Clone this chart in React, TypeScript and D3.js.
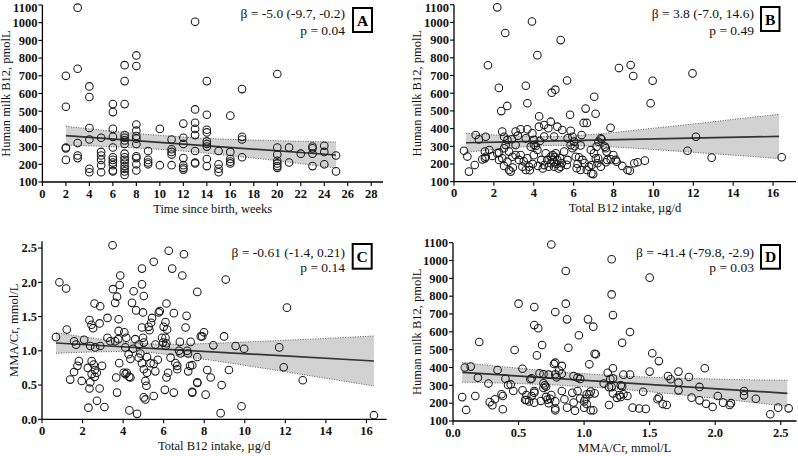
import React from 'react';
import * as d3 from 'd3';

// ---------- Panel A: Time since birth (weeks) vs Human milk B12 ----------
const pointsA: [number, number][] = [
  [2,700],[2,525],[2,295],[2,290],[2,225],
  [3,1085],[3,740],[3,320],[3,250],[3,235],
  [4,640],[4,580],[4,405],[4,340],[4,175],[4,155],
  [5,350],[5,270],[5,250],[5,225],[5,195],[5,155],
  [6,540],[6,495],[6,400],[6,355],[6,295],[6,240],[6,225],[6,210],[6,195],[6,165],[6,160],
  [7,760],[7,670],[7,540],[7,365],[7,350],[7,335],[7,315],[7,260],[7,240],[7,225],[7,210],[7,190],[7,175],[7,160],[7,140],
  [8,815],[8,755],[8,425],[8,390],[8,360],[8,345],[8,315],[8,245],[8,235],[8,200],[8,165],
  [9,275],[9,225],[9,210],[9,200],
  [10,400],[10,195],
  [11,340],[11,285],[11,270],[11,255],[11,195],
  [12,430],[12,350],[12,315],[12,235],[12,195],[12,180],[12,170],
  [13,1005],[13,510],[13,435],[13,400],[13,365],[13,275],[13,210],[13,205],
  [14,670],[14,480],[14,395],[14,380],[14,330],[14,315],[14,300],[14,230],[14,190],
  [15,275],[15,200],[15,175],[15,155],
  [16,475],[16,270],[16,230],[16,215],[16,205],
  [17,625],[17,355],[17,340],[17,240],
  [20,710],[20,295],[20,255],[20,220],[20,205],[20,190],[20,180],
  [21,295],[21,210],
  [22,260],
  [23,300],[23,290],[23,260],[23,190],
  [24,305],[24,270],[24,200],
  [25,250],[25,160],
];
const fitXA = [2, 25];
const fitYA = [361.6, 252.6];
const bandXA = [2, 5, 8, 10.5, 13, 16, 19, 22, 25];
const bandHiA = [415, 393, 374, 361, 350, 341, 335, 330, 326];
const bandLoA = [308, 302, 292, 282, 269, 249, 228, 204, 179];
const ticksXA = [0, 2, 4, 6, 8, 10, 12, 14, 16, 18, 20, 22, 24, 26, 28];
const ticksB12 = [100, 200, 300, 400, 500, 600, 700, 800, 900, 1000, 1100];

// ---------- Panel B: Total B12 intake vs Human milk B12 ----------
const pointsB: [number, number][] = [
  [2.17,1085],[2.57,940],[3.91,1005],[5.35,900],[4.18,815],[1.7,758],[2.25,630],[3.6,642],
  [2.37,499],[2.67,528],[3.68,543],[4.9,603],[5.08,620],[5.67,672],[7.03,580],[8.27,742],
  [8.86,759],[8.99,697],[9.96,670],[9.86,543],[11.96,712],[4.27,469],[5.82,478],[6.6,513],
  [7.1,484],[6.5,432],[6.66,432],[7.85,405],[4.85,439],[12.13,354],[11.71,275],[12.92,236],[16.43,238],
  [1.09,364],[1.25,339],[1.59,354],[2.42,383],[2.51,354],[3.09,383],[3.34,396],[3.68,396],
  [3.93,373],[3.6,345],[4.01,336],[4.26,411],[4.52,420],[4.73,402],[5.18,411],[5.43,392],
  [5.85,388],[5.94,354],[6.4,364],[5.02,355],[4.52,355],[2.68,336],[7.36,345],[7.24,326],[6.02,326],
  [0.5,275],[0.67,242],[1.04,194],[0.75,157],[1.42,226],[1.59,241],[1.92,245],[2.26,264],
  [2.51,289],[2.59,307],[2.76,270],[2.42,232],[2.51,189],[2.76,166],[2.84,157],[2.68,213],
  [2.93,241],[3.09,251],[3.26,223],[3.43,185],[3.6,166],[3.76,185],[3.68,232],[3.34,251],
  [3.85,298],[4.1,302],[4.18,279],[4.21,189],[4.38,223],[4.52,194],[4.68,223],[4.85,241],
  [4.93,223],[4.85,204],[5.02,185],[5.18,223],[5.1,260],[5.35,185],[5.32,232],[5.52,270],
  [5.69,223],[5.94,289],[5.85,307],[6.1,241],[6.15,176],[6.27,238],[6.44,223],[6.35,166],
  [6.66,166],[6.89,147],[6.77,185],[7.11,232],[7.19,204],[7.36,185],[7.61,289],[7.69,223],
  [7.86,226],[7.99,251],[8.11,223],[8.44,189],[8.7,166],[6.86,279],[7.02,260],[4.01,307],
  [3.09,307],[2.26,223],
  [7.4,340],[9.57,219],[9.21,210],[9.04,204],[8.82,162],[8.16,213],[7.62,210],[7.65,270],
  [7.57,298],[7.23,232],[7.15,298],[6.98,143],[6.9,194],
  [1.55,270],[1.55,232],[1.77,279],[2.17,260],
  [4.95,250],[5.05,240],[5.0,210],[5.15,200],[4.75,185],[5.25,175],[4.6,260],[5.4,205],
  [3.95,200],[3.8,165],[4.45,175],[5.65,195],[6.2,200],[6.55,205],[2.95,180],[3.5,215],
  [4.0,250],[4.3,330],[6.05,300],[6.35,305],[2.9,340],[3.2,360],[5.7,345],
];
const fitXB = [0.6, 16.3];
const fitYB = [320, 356];
const bandXB = [0.6, 2, 3.5, 5, 6.5, 8, 10, 12, 14, 16.3];
const bandHiB = [374, 364, 357, 355, 363, 378, 402, 426, 452, 481];
const bandLoB = [266, 282, 297, 305, 303, 296, 282, 266, 250, 231];
const ticksIntake = [0, 2, 4, 6, 8, 10, 12, 14, 16];

// ---------- Panel C: Total B12 intake vs MMA/Cr ----------
const pointsC: [number, number][] = [
  [3.48,2.54],[0.86,2.0],[1.19,1.91],[0.69,1.2],[1.22,1.31],[1.58,1.14],[1.68,1.09],[1.82,0.85],
  [1.75,0.78],[1.58,0.69],[1.39,0.58],[1.96,0.56],[2.08,1.16],[2.34,1.45],[2.59,1.69],[2.87,1.65],
  [2.44,1.38],[2.52,1.33],[2.84,1.40],[2.38,1.07],[2.62,1.05],[2.26,0.75],[2.45,0.85],[2.55,0.80],
  [2.6,0.72],[2.7,0.68],[2.45,0.66],[2.6,0.62],[2.38,0.54],[2.34,0.45],[2.84,0.45],[2.71,0.27],
  [2.29,0.17],[3.08,0.18],[2.96,0.78],[2.87,1.07],[3.23,1.19],[3.23,1.48],[3.5,1.90],[3.61,1.70],
  [3.7,1.79],[3.83,1.96],[3.86,2.10],[3.78,1.46],[3.78,1.29],[3.76,1.17],[3.61,1.14],[3.37,1.14],
  [3.66,0.61],[3.7,0.39],[3.81,0.82],[4.03,0.68],[4.12,0.66],[4.18,0.68],[4.3,0.62],[4.36,0.61],
  [4.31,0.13],[4.69,0.08],[4.06,1.27],[4.16,1.19],[4.11,1.05],[4.27,0.95],[4.36,0.88],[4.49,1.03],
  [4.44,1.70],[4.52,1.87],[4.64,1.59],[4.6,1.17],[4.77,1.09],[4.93,2.20],[4.93,1.97],[5.02,1.80],
  [4.98,1.56],[4.93,1.34],[4.98,1.19],[5.02,1.12],[4.85,0.96],[4.77,0.90],[4.93,0.82],[5.02,0.73],
  [5.18,0.68],[5.1,0.56],[5.15,0.49],[5.02,0.32],[5.1,0.29],[5.18,0.91],[5.26,1.35],[5.3,1.30],
  [5.35,0.82],[5.38,1.41],[5.43,1.48],[5.51,2.30],[5.51,0.81],[5.51,0.34],[5.59,0.70],[5.59,1.09],
  [5.71,0.87],[5.81,1.58],[5.76,1.56],[5.97,1.12],[5.92,1.19],[6.0,1.35],[6.14,1.69],[6.09,1.42],
  [6.25,2.46],[6.17,1.31],[6.09,1.19],[6.1,1.07],[6.13,1.11],[6.22,0.68],[6.14,0.61],[6.06,0.43],
  [6.34,0.90],[6.42,2.20],[6.5,1.55],[6.5,0.39],[6.58,0.82],[6.67,0.78],[6.67,0.73],[6.76,1.00],
  [6.83,0.96],[6.8,1.13],[6.92,2.10],[7.0,2.41],[7.08,1.34],[7.13,1.51],[7.16,1.0],[7.2,0.96],
  [7.21,0.70],[7.3,0.78],[7.41,0.39],[7.66,1.86],[7.66,0.54],[7.83,1.21],
  [9.06,2.04],[12.08,1.63],[7.99,1.27],[7.9,1.21],[8.98,1.21],[8.45,1.08],[9.55,1.07],[9.97,1.03],
  [11.7,1.05],[7.66,0.91],[7.41,0.79],[8.15,0.72],[9.22,0.72],[8.32,0.61],[7.66,0.53],[8.86,0.50],
  [11.92,0.76],[12.86,0.57],[7.41,0.40],[8.07,0.36],[9.84,0.19],[8.81,0.09],[16.37,0.06],[7.33,1.13],
];
const fitXC = [0.69, 16.37];
const fitYC = [1.114, 0.851];
const bandXC = [0.69, 2, 3.5, 5, 6.5, 8, 10, 12, 14, 16.37];
const bandHiC = [1.264, 1.206, 1.146, 1.105, 1.095, 1.105, 1.128, 1.154, 1.181, 1.216];
const bandLoC = [0.964, 0.978, 0.988, 0.979, 0.937, 0.877, 0.788, 0.694, 0.599, 0.486];
const ticksMMA = [0, 0.5, 1.0, 1.5, 2.0, 2.5];

// ---------- Panel D: MMA/Cr vs Human milk B12 ----------
const pointsD: [number, number][] = [
  [0.75,1090],[0.86,941],[0.5,758],[0.86,758],[0.62,739],[0.78,711],[0.87,670],[1.03,670],
  [0.62,638],[0.65,620],[1.07,629],[0.96,581],[0.2,543],[0.68,526],[0.88,511],[0.47,498],
  [0.64,468],[1.08,477],[1.04,418],[0.09,400],[0.135,405],[0.78,427],[0.77,420],[0.83,409],
  [0.34,386],[0.53,393],[0.19,343],[0.4,337],[0.59,334],[0.69,362],[0.73,360],[0.81,383],
  [0.83,365],[0.92,352],[0.95,343],[0.97,336],[0.78,362],[0.79,345],[0.27,310],[0.44,305],
  [0.07,234],[0.17,240],[0.28,206],[0.3,189],[0.32,222],[0.38,240],[0.46,268],[0.53,272],
  [0.56,218],[0.6,240],[0.62,268],[0.58,210],[0.1,162],[0.38,166],[0.67,212],[0.69,285],
  [0.7,300],[0.71,292],[0.73,200],[0.72,220],[0.71,235],[0.74,225],[0.75,245],[0.78,210],
  [0.78,160],[0.78,170],[0.83,268],[0.85,222],[0.87,175],[0.91,258],[0.92,204],[0.93,158],
  [0.97,226],[0.95,268],[1.0,175],[1.04,250],[1.07,160],
  [1.21,1007],[1.5,904],[1.21,810],[1.22,694],[1.35,599],[1.29,539],[1.52,480],[1.57,436],
  [1.09,474],[1.92,396],[1.72,377],[1.80,347],[1.64,352],[1.66,334],[1.72,315],[1.72,272],
  [1.88,291],[1.82,231],[1.88,216],[1.93,197],[1.98,179],[2.02,240],[2.06,203],[2.12,200],
  [2.11,190],[2.22,268],[2.22,244],[2.31,225],[2.42,138],[2.48,175],[2.56,171],[1.5,377],
  [1.45,264],[1.35,360],[1.3,360],[1.25,230],[1.27,245],[1.22,255],[1.28,235],[1.3,250],
  [1.33,240],[1.37,175],[1.42,170],[1.47,168],[1.56,222],[1.57,231],[1.6,195],[1.63,190],
  [1.28,300],[1.29,295],[1.22,396],[1.18,370],[1.22,340],[1.2,335],[1.15,310],[1.19,290],
  [1.21,290],[1.05,265],[1.08,255],[1.02,250],[1.01,225],[1.0,210],[1.02,195],[1.05,160],[1.19,190],
  [0.37,250],[0.42,302],[0.55,218],[0.6,339],[0.56,246],[0.62,203],[0.62,259],[0.66,367],[0.69,311],
];
const fitXD = [0.07, 2.55];
const fitYD = [373, 255];
const bandXD = [0.07, 0.3, 0.6, 0.85, 1.05, 1.3, 1.6, 1.9, 2.2, 2.55];
const bandHiD = [428, 410, 389, 373, 363, 352, 343, 337, 332, 328];
const bandLoD = [318, 314, 307, 299, 290, 277, 257, 235, 211, 182];

const SERIF = '"Liberation Serif", "Times New Roman", Times, serif';

type PanelProps = {
  pts: [number, number][];
  xDomain: [number, number];
  xRange: [number, number];
  yDomain: [number, number];
  yRange: [number, number];
  xTicks: number[];
  yTicks: number[];
  xFmt: (v: number) => string;
  yFmt: (v: number) => string;
  xTitle: string;
  yTitle: string;
  yTitleX: number;
  fitX: number[];
  fitY: number[];
  bandX: number[];
  bandHi: number[];
  bandLo: number[];
  stat1: string;
  stat2: string;
  statX: number;
  statY1: number;
  statY2: number;
  letter: string;
  box: [number, number, number, number];
};

function Panel(p: PanelProps) {
  const x = d3.scaleLinear().domain(p.xDomain).range(p.xRange);
  const y = d3.scaleLinear().domain(p.yDomain).range(p.yRange);
  const idx = p.bandX.map((_, i) => i);
  const area = d3
    .area<number>()
    .x((i) => x(p.bandX[i]))
    .y0((i) => y(p.bandLo[i]))
    .y1((i) => y(p.bandHi[i]))
    .curve(d3.curveMonotoneX);
  const upper = d3
    .line<number>()
    .x((i) => x(p.bandX[i]))
    .y((i) => y(p.bandHi[i]))
    .curve(d3.curveMonotoneX);
  const lower = d3
    .line<number>()
    .x((i) => x(p.bandX[i]))
    .y((i) => y(p.bandLo[i]))
    .curve(d3.curveMonotoneX);
  const [x0, x1] = p.xRange;
  const [yb, yt] = p.yRange;
  const [bx, by, bw, bh] = p.box;
  return (
    <g>
      <path d={area(idx) || ''} fill="#d2d2d2" stroke="none" />
      <path d={upper(idx) || ''} fill="none" stroke="#555" strokeWidth={1} strokeDasharray="1 1.5" />
      <path d={lower(idx) || ''} fill="none" stroke="#555" strokeWidth={1} strokeDasharray="1 1.5" />
      <line
        x1={x(p.fitX[0])}
        y1={y(p.fitY[0])}
        x2={x(p.fitX[1])}
        y2={y(p.fitY[1])}
        stroke="#333"
        strokeWidth={1.7}
      />
      {p.pts.map((d, i) => (
        <circle key={i} cx={x(d[0])} cy={y(d[1])} r={3.8} fill="none" stroke="#1a1a1a" strokeWidth={1.05} />
      ))}
      {/* axes */}
      <line x1={x0} y1={yb} x2={x1} y2={yb} stroke="#000" strokeWidth={1.3} />
      <line x1={x0} y1={yb} x2={x0} y2={yt} stroke="#000" strokeWidth={1.3} />
      {p.xTicks.map((t) => (
        <g key={'xt' + t}>
          <line x1={x(t)} x2={x(t)} y1={yb} y2={yb + 4} stroke="#000" strokeWidth={1.1} />
          <text
            x={x(t)}
            y={yb + 15.5}
            textAnchor="middle"
            fontFamily={SERIF}
            fontWeight="bold"
            fontSize={12.5}
            fill="#111"
          >
            {p.xFmt(t)}
          </text>
        </g>
      ))}
      {p.yTicks.map((t) => (
        <g key={'yt' + t}>
          <line x1={x0 - 4} x2={x0} y1={y(t)} y2={y(t)} stroke="#000" strokeWidth={1.1} />
          <text
            x={x0 - 5}
            y={Math.max(y(t) + 4.3, 11.5)}
            textAnchor="end"
            fontFamily={SERIF}
            fontWeight="bold"
            fontSize={12.5}
            fill="#111"
          >
            {p.yFmt(t)}
          </text>
        </g>
      ))}
      <text
        x={(x0 + x1) / 2}
        y={yb + 30.5}
        textAnchor="middle"
        fontFamily={SERIF}
        fontSize={12.5}
        fill="#111"
      >
        {p.xTitle}
      </text>
      <text
        transform={`translate(${p.yTitleX},${(yb + yt) / 2}) rotate(-90)`}
        textAnchor="middle"
        fontFamily={SERIF}
        fontSize={12.5}
        fill="#111"
      >
        {p.yTitle}
      </text>
      <text x={p.statX} y={p.statY1} textAnchor="end" fontFamily={SERIF} fontSize={13.5} fill="#111">
        {p.stat1}
      </text>
      <text x={p.statX} y={p.statY2} textAnchor="end" fontFamily={SERIF} fontSize={13.5} fill="#111">
        {p.stat2}
      </text>
      <rect x={bx} y={by} width={bw} height={bh} fill="#fff" stroke="#000" strokeWidth={2} />
      <text
        x={bx + bw / 2}
        y={by + bh / 2 + 5.5}
        textAnchor="middle"
        fontFamily={SERIF}
        fontWeight="bold"
        fontSize={15.5}
        fill="#000"
      >
        {p.letter}
      </text>
    </g>
  );
}

const fmtInt = (v: number) => String(v);
const fmt1 = (v: number) => v.toFixed(1);

export default function App() {
  return (
    <svg
      width={798}
      height={456}
      viewBox="0 0 798 456"
      style={{ position: 'absolute', left: 0, top: 0, background: '#fff' }}
    >
      <rect x={0} y={0} width={798} height={456} fill="#fff" />
      <Panel
        pts={pointsA}
        xDomain={[0, 29]}
        xRange={[42.4, 383]}
        yDomain={[100, 1100]}
        yRange={[182, 5]}
        xTicks={ticksXA}
        yTicks={ticksB12}
        xFmt={fmtInt}
        yFmt={fmtInt}
        xTitle="Time since birth, weeks"
        yTitle="Human milk B12, pmolL"
        yTitleX={10}
        fitX={fitXA}
        fitY={fitYA}
        bandX={bandXA}
        bandHi={bandHiA}
        bandLo={bandLoA}
        stat1="β = -5.0 (-9.7, -0.2)"
        stat2="p = 0.04"
        statX={345}
        statY1={18}
        statY2={34.5}
        letter="A"
        box={[353, 8, 19, 24]}
      />
      <Panel
        pts={pointsB}
        xDomain={[0, 17.15]}
        xRange={[454, 796]}
        yDomain={[100, 1100]}
        yRange={[181.7, 4.7]}
        xTicks={ticksIntake}
        yTicks={ticksB12}
        xFmt={fmtInt}
        yFmt={fmtInt}
        xTitle="Total B12 intake, µg/d"
        yTitle="Human milk B12, pmolL"
        yTitleX={421}
        fitX={fitXB}
        fitY={fitYB}
        bandX={bandXB}
        bandHi={bandHiB}
        bandLo={bandLoB}
        stat1="β = 3.8 (-7.0, 14.6)"
        stat2="p = 0.49"
        statX={754}
        statY1={18}
        statY2={34.5}
        letter="B"
        box={[761, 7, 18.5, 24]}
      />
      <Panel
        pts={pointsC}
        xDomain={[0, 17]}
        xRange={[42, 386.7]}
        yDomain={[0, 2.6]}
        yRange={[419.3, 241.2]}
        xTicks={ticksIntake}
        yTicks={ticksMMA}
        xFmt={fmtInt}
        yFmt={fmt1}
        xTitle="Total B12 intake, µg/d"
        yTitle="MMA/Cr, mmol/L"
        yTitleX={18}
        fitX={fitXC}
        fitY={fitYC}
        bandX={bandXC}
        bandHi={bandHiC}
        bandLo={bandLoC}
        stat1="β = -0.61 (-1.4, 0.21)"
        stat2="p = 0.14"
        statX={345}
        statY1={257}
        statY2={272}
        letter="C"
        box={[352.7, 244, 19, 24.7]}
      />
      <Panel
        pts={pointsD}
        xDomain={[0, 2.62]}
        xRange={[453, 796.5]}
        yDomain={[100, 1100]}
        yRange={[421, 242.7]}
        xTicks={ticksMMA}
        yTicks={ticksB12}
        xFmt={fmt1}
        yFmt={fmtInt}
        xTitle="MMA/Cr, mmol/L"
        yTitle="Human milk B12, pmolL"
        yTitleX={421}
        fitX={fitXD}
        fitY={fitYD}
        bandX={bandXD}
        bandHi={bandHiD}
        bandLo={bandLoD}
        stat1="β = -41.4 (-79.8, -2.9)"
        stat2="p = 0.03"
        statX={754}
        statY1={257}
        statY2={272}
        letter="D"
        box={[761, 245, 19, 23.7]}
      />
    </svg>
  );
}
